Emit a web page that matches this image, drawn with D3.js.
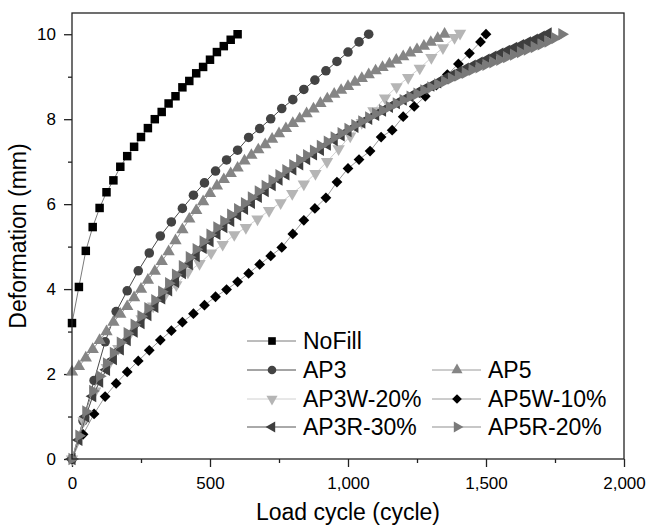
<!DOCTYPE html>
<html>
<head>
<meta charset="utf-8">
<script src="https://cdnjs.cloudflare.com/ajax/libs/d3/7.8.5/d3.min.js"></script>
<style>
  body { margin: 0; background: #fff; }
  svg text { font-family: "Liberation Sans", Arial, sans-serif; fill: #000; }
</style>
</head>
<body>
<svg id="chart" width="649" height="527"></svg>
<script>
// ---- data ----
const xTicks = [0, 500, 1000, 1500, 2000];
const xMinorTicks = [250, 750, 1250, 1750];
const yTicks = [0, 2, 4, 6, 8, 10];
const yMinorTicks = [1, 3, 5, 7, 9];

const noFillX = [0, 25, 50, 75, 100, 125, 150, 175, 200, 225, 250, 275, 300, 325, 350, 375, 400, 425, 450, 475, 500, 525, 550, 575, 600];
const noFillY = [3.2, 4.05, 4.9, 5.46, 5.91, 6.28, 6.56, 6.88, 7.13, 7.35, 7.58, 7.79, 8.0, 8.17, 8.37, 8.54, 8.75, 8.9, 9.08, 9.23, 9.4, 9.58, 9.72, 9.87, 10.0];

const ap3X = [0, 40, 80, 120, 160, 200, 240, 280, 320, 360, 400, 440, 480, 520, 560, 600, 640, 680, 720, 760, 800, 840, 880, 920, 960, 1000, 1040, 1075];
const ap3Y = [0, 0.9, 1.85, 2.76, 3.47, 3.96, 4.43, 4.85, 5.25, 5.58, 5.9, 6.21, 6.5, 6.78, 7.04, 7.27, 7.57, 7.78, 8.01, 8.25, 8.46, 8.7, 8.92, 9.14, 9.36, 9.58, 9.82, 10.0];

const ap5X = [0, 25, 50, 75, 100, 125, 150, 175, 200, 225, 250, 275, 300, 325, 350, 375, 400, 425, 450, 475, 500, 525, 550, 575, 600, 625, 650, 675, 700, 725, 750, 775, 800, 825, 850, 875, 900, 925, 950, 975, 1000, 1025, 1050, 1075, 1100, 1125, 1150, 1175, 1200, 1225, 1250, 1275, 1300, 1325, 1350];
const ap5Y = [2.05, 2.18, 2.38, 2.58, 2.79, 3.0, 3.22, 3.41, 3.59, 3.8, 4.0, 4.21, 4.42, 4.65, 4.88, 5.14, 5.4, 5.65, 5.85, 6.06, 6.25, 6.43, 6.58, 6.72, 6.85, 7.02, 7.15, 7.28, 7.4, 7.53, 7.66, 7.78, 7.9, 8.01, 8.13, 8.24, 8.37, 8.48, 8.59, 8.68, 8.77, 8.87, 8.96, 9.05, 9.14, 9.22, 9.3, 9.39, 9.47, 9.56, 9.64, 9.72, 9.81, 9.9, 10.0];

const ap3wX = [0, 42, 84, 126, 168, 210, 252, 294, 336, 378, 420, 462, 504, 546, 588, 630, 672, 714, 756, 798, 840, 882, 924, 966, 1008, 1050, 1092, 1134, 1176, 1218, 1260, 1302, 1344, 1386, 1406];
const ap3wY = [0, 0.9, 1.6, 2.15, 2.6, 2.95, 3.3, 3.6, 3.85, 4.1, 4.4, 4.6, 4.85, 5.05, 5.28, 5.45, 5.65, 5.85, 6.03, 6.25, 6.47, 6.72, 7.0, 7.3, 7.6, 7.92, 8.2, 8.5, 8.76, 8.98, 9.2, 9.45, 9.68, 9.92, 10.02];

const ap5wX = [0, 40, 80, 120, 160, 200, 240, 280, 320, 360, 400, 440, 480, 520, 560, 600, 640, 680, 720, 760, 800, 840, 880, 920, 960, 1000, 1040, 1080, 1120, 1160, 1200, 1240, 1280, 1320, 1360, 1400, 1440, 1480, 1500];
const ap5wY = [0, 0.58, 1.06, 1.47, 1.78, 2.05, 2.31, 2.56, 2.8, 3.02, 3.22, 3.42, 3.62, 3.82, 3.99, 4.17, 4.37, 4.58, 4.78, 4.98, 5.3, 5.62, 5.9, 6.15, 6.52, 6.84, 7.05, 7.25, 7.58, 7.74, 8.06, 8.3, 8.54, 8.8, 9.05, 9.3, 9.55, 9.82, 10.0];

const ap3rX = [0, 25, 50, 75, 100, 125, 150, 175, 200, 225, 250, 275, 300, 325, 350, 375, 400, 425, 450, 475, 500, 525, 550, 575, 600, 625, 650, 675, 700, 725, 750, 775, 800, 825, 850, 875, 900, 925, 950, 975, 1000, 1025, 1050, 1075, 1100, 1125, 1150, 1175, 1200, 1225, 1250, 1275, 1300, 1325, 1350, 1375, 1400, 1425, 1450, 1475, 1500, 1525, 1550, 1575, 1600, 1625, 1650, 1675, 1700, 1725];
const ap3rY = [0, 0.45, 1.0, 1.48, 1.82, 2.1, 2.35, 2.58, 2.8, 3.0, 3.2, 3.39, 3.58, 3.78, 3.97, 4.17, 4.38, 4.59, 4.78, 4.97, 5.13, 5.3, 5.46, 5.61, 5.75, 5.89, 6.03, 6.17, 6.31, 6.45, 6.58, 6.7, 6.82, 6.94, 7.06, 7.17, 7.28, 7.4, 7.51, 7.62, 7.72, 7.82, 7.92, 8.01, 8.1, 8.2, 8.29, 8.38, 8.46, 8.54, 8.63, 8.71, 8.79, 8.87, 8.96, 9.03, 9.11, 9.19, 9.26, 9.33, 9.4, 9.47, 9.54, 9.61, 9.68, 9.74, 9.81, 9.87, 9.94, 10.02];

const ap5rX = [0, 25, 50, 75, 100, 125, 150, 175, 200, 225, 250, 275, 300, 325, 350, 375, 400, 425, 450, 475, 500, 525, 550, 575, 600, 625, 650, 675, 700, 725, 750, 775, 800, 825, 850, 875, 900, 925, 950, 975, 1000, 1025, 1050, 1075, 1100, 1125, 1150, 1175, 1200, 1225, 1250, 1275, 1300, 1325, 1350, 1375, 1400, 1425, 1450, 1475, 1500, 1525, 1550, 1575, 1600, 1625, 1650, 1675, 1700, 1725, 1750, 1775];
const ap5rY = [0, 0.55, 1.12, 1.6, 1.95, 2.25, 2.5, 2.74, 2.96, 3.16, 3.36, 3.55, 3.74, 3.94, 4.14, 4.34, 4.54, 4.75, 4.94, 5.12, 5.28, 5.45, 5.6, 5.75, 5.88, 6.02, 6.16, 6.3, 6.43, 6.56, 6.68, 6.8, 6.92, 7.04, 7.15, 7.26, 7.37, 7.47, 7.57, 7.67, 7.77, 7.86, 7.95, 8.04, 8.13, 8.21, 8.29, 8.37, 8.45, 8.53, 8.6, 8.68, 8.75, 8.82, 8.89, 8.96, 9.03, 9.09, 9.16, 9.22, 9.28, 9.34, 9.4, 9.46, 9.52, 9.58, 9.64, 9.7, 9.76, 9.83, 9.91, 10.0];

// draw order follows the original plot (AP3R / AP5R end up on top)
const series = [
  { name: 'NoFill',    xs: noFillX, ys: noFillY, shape: 'square',  fill: '#000000', line: '#7a7a7a', col: 0, row: 0 },
  { name: 'AP3',       xs: ap3X,    ys: ap3Y,    shape: 'circle',  fill: '#434343', line: '#4a4a4a', col: 0, row: 1 },
  { name: 'AP5',       xs: ap5X,    ys: ap5Y,    shape: 'up',      fill: '#858585', line: '#9a9a9a', col: 1, row: 1 },
  { name: 'AP3W-20%',  xs: ap3wX,   ys: ap3wY,   shape: 'down',    fill: '#b5b5b5', line: '#d0d0d0', col: 0, row: 2 },
  { name: 'AP5W-10%',  xs: ap5wX,   ys: ap5wY,   shape: 'diamond', fill: '#000000', line: '#9a9a9a', col: 1, row: 2 },
  { name: 'AP3R-30%',  xs: ap3rX,   ys: ap3rY,   shape: 'left',    fill: '#3e3e3e', line: '#555555', col: 0, row: 3 },
  { name: 'AP5R-20%',  xs: ap5rX,   ys: ap5rY,   shape: 'right',   fill: '#7a7a7a', line: '#8f8f8f', col: 1, row: 3 }
];

const svg = d3.select('#chart');
const x = d3.scaleLinear().domain([0, 2000]).range([72, 624]);
const y = d3.scaleLinear().domain([0, 10.5]).range([459, 13]);

function markerPath(shape) {
  if (shape === 'square') return d3.symbol(d3.symbolSquare, 72)();
  if (shape === 'circle') return d3.symbol(d3.symbolCircle, 72)();
  if (shape === 'diamond') return d3.symbol(d3.symbolSquare, 58)();
  return d3.symbol(d3.symbolTriangle, 66)();
}
function markerRotate(shape) {
  return { diamond: 45, down: 180, left: -90, right: 90 }[shape] || 0;
}

// axes
const axisColor = '#222';
function styleAxis(g) {
  g.select('.domain').remove();
  g.selectAll('line').attr('stroke', axisColor).attr('stroke-width', 1.3);
  g.selectAll('text').attr('font-size', 17).attr('fill', '#000');
}

svg.append('g')
  .attr('transform', 'translate(0,459)')
  .call(d3.axisBottom(x).tickValues(xTicks).tickSize(8).tickPadding(10).tickFormat(d3.format(',')))
  .call(styleAxis);
svg.append('g')
  .attr('transform', 'translate(0,459)')
  .call(d3.axisBottom(x).tickValues(xMinorTicks).tickSize(4).tickFormat(''))
  .call(styleAxis);
svg.append('g')
  .attr('transform', 'translate(72,0)')
  .call(d3.axisLeft(y).tickValues(yTicks).tickSize(8).tickPadding(8))
  .call(styleAxis);
svg.append('g')
  .attr('transform', 'translate(72,0)')
  .call(d3.axisLeft(y).tickValues(yMinorTicks).tickSize(4).tickFormat(''))
  .call(styleAxis);

// series
const line = d3.line().x(d => x(d[0])).y(d => y(d[1]));
series.forEach(s => {
  const pts = s.xs.map((v, i) => [v, s.ys[i]]);
  const g = svg.append('g');
  g.append('path')
    .attr('d', line(pts))
    .attr('fill', 'none')
    .attr('stroke', s.line)
    .attr('stroke-width', 1);
  g.selectAll('path.mk')
    .data(pts)
    .enter()
    .append('path')
    .attr('class', 'mk')
    .attr('d', markerPath(s.shape))
    .attr('transform', d => 'translate(' + x(d[0]) + ',' + y(d[1]) + ')rotate(' + markerRotate(s.shape) + ')')
    .attr('fill', s.fill);
});

// frame
svg.append('rect')
  .attr('x', 72).attr('y', 13)
  .attr('width', 552).attr('height', 446)
  .attr('fill', 'none')
  .attr('stroke', axisColor)
  .attr('stroke-width', 1.3);

// axis titles
svg.append('text')
  .attr('x', 348).attr('y', 520)
  .attr('text-anchor', 'middle')
  .attr('font-size', 23)
  .text('Load cycle (cycle)');
svg.append('text')
  .attr('transform', 'translate(26,236)rotate(-90)')
  .attr('text-anchor', 'middle')
  .attr('font-size', 23)
  .text('Deformation (mm)');

// legend
const legend = svg.append('g');
const colX = [247, 432];
const rowY = [341, 370, 399, 427];
series.forEach(s => {
  const lx = colX[s.col], ly = rowY[s.row];
  const item = legend.append('g').attr('transform', 'translate(' + lx + ',' + ly + ')');
  item.append('line')
    .attr('x1', 0).attr('x2', 49)
    .attr('stroke', s.line).attr('stroke-width', 1);
  item.append('path')
    .attr('d', markerPath(s.shape))
    .attr('transform', 'translate(25,0)rotate(' + markerRotate(s.shape) + ')scale(0.9)')
    .attr('fill', s.fill);
  item.append('text')
    .attr('x', 56).attr('y', 8)
    .attr('font-size', 23)
    .text(s.name);
});
</script>
</body>
</html>
